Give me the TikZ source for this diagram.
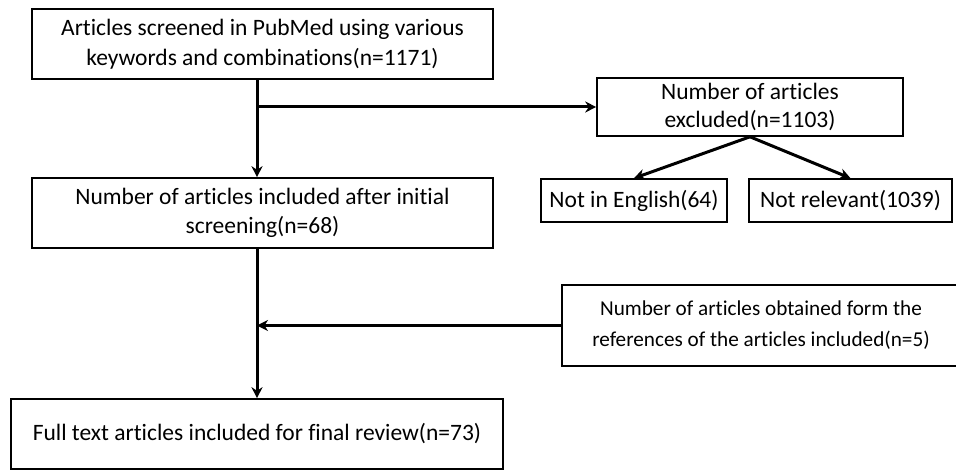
\documentclass[tikz,border=0pt]{standalone}
\usepackage{fontspec}
\setmainfont{Carlito}[Ligatures=NoCommon]
\usetikzlibrary{arrows.meta,positioning}

\tikzset{
  box/.style={draw, line width=1.6pt, align=center, inner sep=0pt,
    font=\fontsize{23.5}{29.5}\selectfont},
  flow/.style={line width=3pt}
}

\begin{document}
\begin{tikzpicture}[>={Stealth[length=11pt,width=11pt]}, x=1pt, y=-1pt]
    \useasboundingbox (0,0) rectangle (956,470);

    \node[box, minimum width=461pt, minimum height=70pt] (search) at (262.5,44) {Articles screened in PubMed using various\\keywords and combinations(n=1171)};
    \node[box, minimum width=306pt, minimum height=58pt, font=\fontsize{23.5}{28}\selectfont] (excl) at (750,107) {Number of articles\\excluded(n=1103)};
    \node[box, minimum width=461pt, minimum height=70pt] (incl) at (262.5,213) {Number of articles included after initial\\screening(n=68)};
    \node[box, minimum width=186pt, minimum height=43pt] (eng) at (634,200.5) {Not in English(64)};
    \node[box, minimum width=203pt, minimum height=43pt] (rel) at (850.5,200.5) {Not relevant(1039)};
    \node[box, minimum width=398pt, minimum height=81pt, font=\fontsize{21.2}{31}\selectfont] (refs) at (761,325.5) {Number of articles obtained form the\\references of the articles included(n=5)};
    \node[box, minimum width=492pt, minimum height=70pt] (final) at (257,434) {Full text articles included for final review(n=73)};

    \coordinate (split) at (search.south -| final.north);
    \coordinate (branch) at (split |- excl.west);
    \coordinate (merge) at (split |- refs.west);

    \draw[flow,->] (split) -- (incl.north -| final.north);
    \draw[flow,->] (branch) -- (excl.west);
    \draw[flow,->] (excl.south) -- (eng.north);
    \draw[flow,->] (excl.south) -- (rel.north);
    \draw[flow,->] (incl.south -| final.north) -- (final.north);
    \draw[flow,->] (refs.west) -- (merge);
\end{tikzpicture}
\end{document}
